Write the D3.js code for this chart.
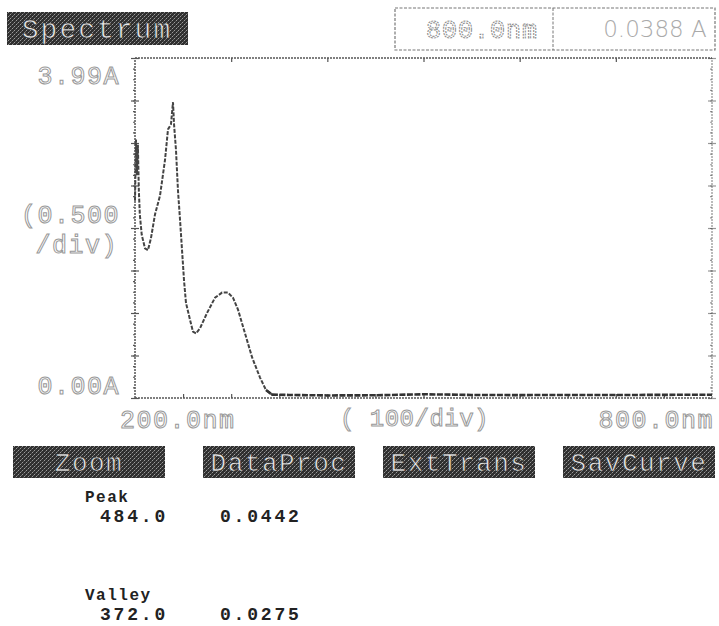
<!DOCTYPE html>
<html><head><meta charset="utf-8">
<script src="https://cdn.jsdelivr.net/npm/d3@7"></script>
<style>body{margin:0;background:#fff}svg{display:block}</style>
</head><body>
<script>
// ---- data ----
const wavelengths = [200,201,202,203,204,205,207,210.4,213.5,216.6,220.8,226,231.2,234.3,237.4,239.5,240.6,242.6,244.7,246.8,248.9,251,253,257.2,260.3,263.4,267.6,274.9,283.2,290.5,296.7,301.9,307.1,314.4,321.7,330,336.2,342.5,360,400,450,500,550,600,650,700,750,800];
const absorbance  = [2.32,3.04,2.62,2.98,2.44,2.16,1.92,1.76,1.74,1.88,2.16,2.38,2.80,3.16,3.22,3.48,3.22,2.92,2.44,2.10,1.74,1.38,1.12,0.92,0.78,0.76,0.82,1.00,1.18,1.24,1.24,1.18,1.04,0.76,0.48,0.24,0.094,0.040,0.036,0.030,0.032,0.044,0.036,0.034,0.036,0.035,0.037,0.039];
const xRange = [200, 800];
const yRange = [0, 4];
const yTickLabels = ["3.99A", "(0.500", "/div)", "0.00A"];
const xTickLabels = ["200.0nm", "( 100/div)", "800.0nm"];
const buttons = ["Zoom", "DataProc", "ExtTrans", "SavCurve"];
const cursorReadout = ["800.0nm", "0.0388 A"];
const tableNames = ["Peak", "Valley"];
const tableWavelengths = ["484.0", "372.0"];
const tableValues = ["0.0442", "0.0275"];

const W = 719, H = 626;
const svg = d3.select("body").append("svg").attr("width", W).attr("height", H);
const defs = svg.append("defs");
const pat = defs.append("pattern").attr("id","dither").attr("width",4).attr("height",4).attr("patternUnits","userSpaceOnUse");
pat.append("rect").attr("width",4).attr("height",4).attr("fill","#2f2f2f");
[[0,0,"#9a9a9a"],[2,2,"#9a9a9a"],[1,3,"#6a6a6a"],[3,1,"#555"]].forEach(([a,b,c])=>pat.append("rect").attr("x",a).attr("y",b).attr("width",1).attr("height",1).attr("fill",c));

const x = d3.scaleLinear().domain(xRange).range([135, 712]);
const y = d3.scaleLinear().domain(yRange).range([398, 58]);

// ---- header ----
svg.append("rect").attr("x",7).attr("y",12).attr("width",181).attr("height",33).attr("fill","url(#dither)");
svg.append("text").attr("x",97).attr("y",38).attr("text-anchor","middle")
  .attr("font-family","Liberation Mono, monospace").attr("font-size",28).attr("letter-spacing",2)
  .attr("fill","#e6e6e6").attr("stroke","#333").attr("stroke-width",0.7).text("Spectrum");

svg.append("rect").attr("x",395).attr("y",8).attr("width",320).attr("height",42)
  .attr("fill","none").attr("stroke","#777").attr("stroke-width",1.2).attr("stroke-dasharray","3,1.5");
svg.append("line").attr("x1",553).attr("x2",553).attr("y1",8).attr("y2",50).attr("stroke","#777").attr("stroke-dasharray","3,1.5");
svg.append("text").attr("x",482).attr("y",38).attr("text-anchor","middle")
  .attr("font-family","Liberation Mono, monospace").attr("font-size",25).attr("letter-spacing",1)
  .attr("fill","#fff").attr("stroke","#888").attr("stroke-width",1).attr("stroke-dasharray","2,1").text(cursorReadout[0]);
svg.append("text").attr("x",655).attr("y",37).attr("text-anchor","middle")
  .attr("font-family","DejaVu Sans, sans-serif").attr("font-weight",200).attr("font-size",23)
  .attr("fill","#aaa").text(cursorReadout[1]);

// ---- axes ----
const axG = svg.append("g").attr("stroke","#555");
function dottedLine(x1,y1,x2,y2,w){axG.append("line").attr("x1",x1).attr("y1",y1).attr("x2",x2).attr("y2",y2).attr("stroke-width",w||1.2).attr("stroke-dasharray","2,1");}
dottedLine(x(200), y(4), x(800), y(4), 1.5);
dottedLine(x(200), y(0), x(800), y(0), 1.5);
dottedLine(x(200), y(0), x(200), y(4), 1.5);
dottedLine(x(800), y(0), x(800), y(4), 0.8);

const yMajor = d3.range(0, 4.001, 0.5);
const yMinor = d3.range(0, 4.001, 0.125);
[[x(200),1],[x(800),0.6]].forEach(([px,op])=>{
  svg.append("g").attr("transform",`translate(${px},0)`).attr("opacity",op)
    .call(d3.axisLeft(y).tickValues(yMinor).tickSize(2).tickFormat("")).call(g=>g.select(".domain").remove());
  svg.append("g").attr("transform",`translate(${px},0)`).attr("opacity",op)
    .call(d3.axisLeft(y).tickValues(yMajor).tickSize(4).tickFormat("")).call(g=>g.select(".domain").remove());
  svg.append("g").attr("transform",`translate(${px},0)`).attr("opacity",op)
    .call(d3.axisRight(y).tickValues(yMajor).tickSize(4).tickFormat("")).call(g=>g.select(".domain").remove());
});
svg.append("g").attr("transform",`translate(0,${y(0)})`)
  .call(d3.axisTop(x).tickValues(d3.range(250, 800, 50)).tickSize(4).tickFormat("")).call(g=>g.select(".domain").remove());
svg.append("g").attr("transform",`translate(0,${y(4)})`)
  .call(d3.axisBottom(x).tickValues(d3.range(300, 800, 100)).tickSize(4).tickFormat("")).call(g=>g.select(".domain").remove());
svg.selectAll(".tick line").attr("stroke","#555").attr("stroke-width",1.2);

// ---- curve ----
const pts = wavelengths.map((w,i)=>[w, absorbance[i]]);
const line = d3.line().x(d=>x(d[0])).y(d=>y(d[1]));
svg.append("path").datum(pts.filter(d=>d[0]<=342.5)).attr("d",line)
  .attr("fill","none").attr("stroke","#444").attr("stroke-width",2).attr("stroke-dasharray","4,1.5");
svg.append("path").datum(pts.filter(d=>d[0]>=336.2)).attr("d",line)
  .attr("fill","none").attr("stroke","#333").attr("stroke-width",2.6).attr("stroke-dasharray","6,1.5");

// ---- axis labels ----
const lblFont = "Liberation Mono, monospace";
function hollow(t, px, py, anchor, size, ls){
  svg.append("text").attr("x",px).attr("y",py).attr("text-anchor",anchor||"start")
    .attr("font-family",lblFont).attr("font-size",size||25).attr("letter-spacing",ls||1.5)
    .attr("fill","#fff").attr("stroke","#999").attr("stroke-width",1).text(t);
}
hollow(yTickLabels[0], 120, 84, "end");
hollow(yTickLabels[1], 120, 223, "end");
hollow(yTickLabels[2], 118, 253, "end");
hollow(yTickLabels[3], 120, 394, "end");
hollow(xTickLabels[0], 120, 428, "start");
hollow(xTickLabels[1], 340, 426, "start", 24, 0.5);
hollow(xTickLabels[2], 714, 428, "end");

// ---- buttons ----
const btnX = [13, 203, 383, 563];
buttons.forEach((b,i)=>{
  svg.append("rect").attr("x",btnX[i]).attr("y",446).attr("width",152).attr("height",32).attr("fill","url(#dither)");
  svg.append("text").attr("x",btnX[i]+76).attr("y",471).attr("text-anchor","middle")
    .attr("font-family",lblFont).attr("font-size",26).attr("letter-spacing",1.5)
    .attr("fill","#e8e8e8").attr("stroke","#333").attr("stroke-width",0.7).text(b);
});

// ---- peak/valley table ----
const tFont = "Liberation Mono, Courier New, monospace";
tableNames.forEach((n,i)=>{
  const base = i===0 ? 502 : 600;
  svg.append("text").attr("x",85).attr("y",base).attr("font-family",tFont).attr("font-weight","bold")
    .attr("font-size",16).attr("letter-spacing",1.5).attr("fill","#222").text(n);
  svg.append("text").attr("x",100).attr("y",base+20).attr("font-family",tFont).attr("font-weight","bold")
    .attr("font-size",18).attr("letter-spacing",2.8).attr("fill","#222").text(tableWavelengths[i]);
  svg.append("text").attr("x",220).attr("y",base+20).attr("font-family",tFont).attr("font-weight","bold")
    .attr("font-size",18).attr("letter-spacing",2.8).attr("fill","#222").text(tableValues[i]);
});
</script>
</body></html>
